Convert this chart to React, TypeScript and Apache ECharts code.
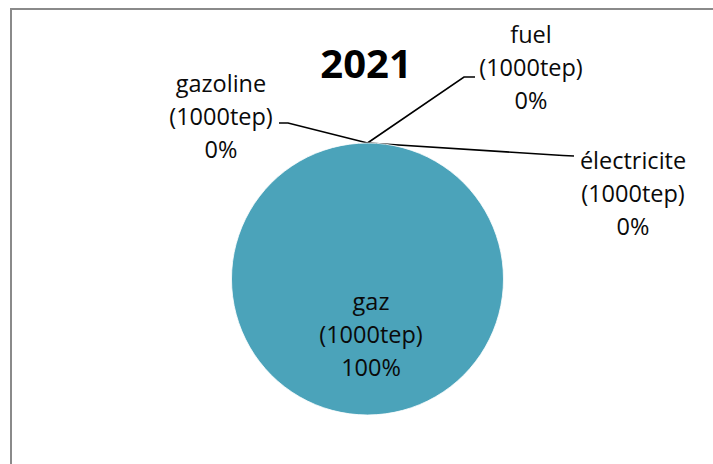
import React, { useEffect, useRef } from "react";
import * as echarts from "echarts";

const title = "2021";
const categories = ["gazoline (1000tep)", "fuel (1000tep)", "électricite (1000tep)", "gaz (1000tep)"];
const values = [0, 0, 0, 100];

// label positions (centre of each label block), styling only
const labelPos: Record<string, [number, number]> = {
  "gazoline (1000tep)": [221, 116],
  "fuel (1000tep)": [531, 67],
  "électricite (1000tep)": [633, 193],
  "gaz (1000tep)": [371, 334],
};
// leader line bend / end points next to each outside label (styling only)
const leaderEnds: Record<string, [[number, number], [number, number]]> = {
  "gazoline (1000tep)": [[288, 123], [279, 123]],
  "fuel (1000tep)": [[464, 77], [475, 77]],
  "électricite (1000tep)": [[563, 155.5], [574, 156]],
};

const FONT = '"Open Sans", sans-serif';
const CENTER: [number, number] = [367.5, 279];
const RADIUS = 136;

export default function App() {
  const ref = useRef<HTMLDivElement>(null);
  useEffect(() => {
    if (!ref.current) return;
    const chart = echarts.init(ref.current, undefined, { renderer: "svg" });
    const data = categories.map((name, i) => {
      const inside = values[i] > 0;
      return {
        name,
        value: values[i],
        label: inside ? { position: "inside" } : { position: "outside" },
        labelLine: { show: !inside },
      };
    });
    chart.setOption({
      animation: false,
      backgroundColor: "#ffffff",
      graphic: [
        {
          type: "rect",
          shape: { x: 11, y: 9, width: 900, height: 900 },
          style: { fill: "none", stroke: "#8a8a8a", lineWidth: 2 },
          silent: true,
        },
        {
          type: "text",
          x: 366,
          y: 62,
          style: {
            text: title,
            align: "center",
            verticalAlign: "middle",
            font: `bold 40px ${FONT}`,
            fill: "#000",
          },
        },
      ],
      series: [
        {
          type: "pie",
          center: CENTER,
          radius: [0, RADIUS],
          startAngle: 90,
          clockwise: true,
          percentPrecision: 0,
          itemStyle: { color: "#4BA3BA", borderColor: "#ffffff", borderWidth: 0.8 },
          label: {
            show: true,
            formatter: (p: any) => p.name.replace(" (", "\n(") + "\n" + p.percent + "%",
            fontFamily: FONT,
            fontSize: 23.5,
            lineHeight: 33,
            color: "#0a0a0a",
            align: "center",
          },
          labelLine: {
            show: true,
            length: 10,
            length2: 10,
            lineStyle: { color: "#000", width: 1.6 },
          },
          labelLayout: (params: any) => {
            const name = categories[params.dataIndex];
            const pos = labelPos[name];
            const out: any = { x: pos[0], y: pos[1], align: "center", verticalAlign: "middle" };
            const ends = leaderEnds[name];
            if (ends) {
              const start =
                params.labelLinePoints && params.labelLinePoints[0]
                  ? params.labelLinePoints[0]
                  : [CENTER[0], CENTER[1] - RADIUS];
              out.labelLinePoints = [start, ends[0], ends[1]];
            }
            return out;
          },
          emphasis: { disabled: true },
          data,
        },
      ],
    });
    return () => chart.dispose();
  }, []);
  return (
    <div
      ref={ref}
      style={{ position: "absolute", left: 0, top: 0, width: 713, height: 464 }}
    />
  );
}
